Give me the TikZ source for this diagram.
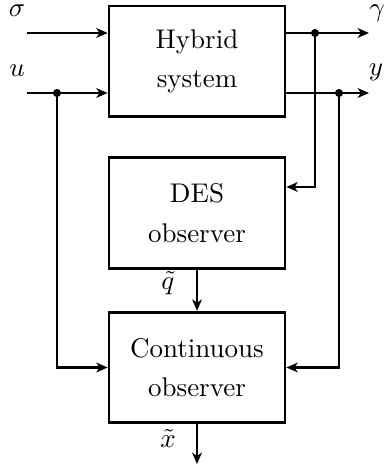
\documentclass[tikz,border=0pt]{standalone}
\usetikzlibrary{arrows.meta}
\begin{document}
\begin{tikzpicture}[x=0.3704pt,y=-0.3704pt,
  blk/.style={draw,line width=1pt,minimum width=65.2pt,minimum height=41pt,align=center,inner sep=0pt},
  conn/.style={line width=1pt,-{Stealth[length=4.2pt,width=3.6pt,inset=1.2pt]}},
  wire/.style={line width=1pt},
  dot/.style={circle,fill,inner sep=0pt,minimum size=3pt},
  lbl/.style={inner sep=0pt}]
\useasboundingbox (0,0) rectangle (383,466);
\node[blk] (hs) at (197,61.5) {Hybrid\\[2.6pt]system};
\node[blk] (des) at (197,213) {DES\\[2.6pt]observer};
\node[blk] (co) at (197,367.5) {Continuous\\[2.6pt]observer};
\coordinate (sin) at (27,33);
\coordinate (uin) at (27,93);
\node[dot] (du) at (57,93) {};
\node[dot] (dg) at (315,33) {};
\node[dot] (dy) at (339,93) {};
\coordinate (gout) at (369,33);
\coordinate (yout) at (369,93);
\coordinate (xout) at (197,464);
\node[lbl] (ls) at (17,11) {$\sigma$};
\node[lbl] (lu) at (17,71) {$u$};
\node[lbl] (lg) at (377,13) {$\gamma$};
\node[lbl] (ly) at (376,72) {$y$};
\node[lbl] (lq) at (168,283) {$\tilde q$};
\node[lbl] (lx) at (168,438) {$\tilde x$};
\draw[conn] (sin) -- (sin -| hs.west);
\draw[conn] (uin) -- (uin -| hs.west);
\draw[wire] (dg -| hs.east) -- (dg.center);
\draw[conn] (dg.center) -- (gout);
\draw[wire] (dy -| hs.east) -- (dy.center);
\draw[conn] (dy.center) -- (yout);
\draw[conn] (dg.center) |- (des.east |- 0,187);
\draw[conn] (du.center) |- (co.west);
\draw[conn] (dy.center) |- (co.east);
\draw[conn] (des.south) -- (co.north);
\draw[conn] (co.south) -- (xout);
\end{tikzpicture}
\end{document}
